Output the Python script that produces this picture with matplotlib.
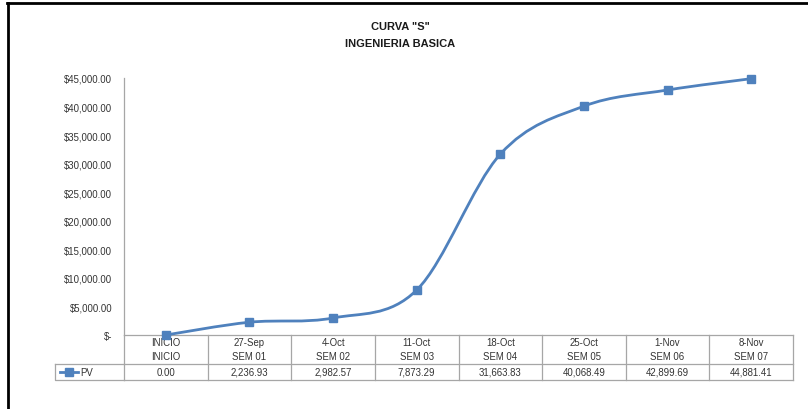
import matplotlib
matplotlib.use("Agg")
import matplotlib.pyplot as plt
from matplotlib.path import Path
from matplotlib.patches import PathPatch
from matplotlib.lines import Line2D
from matplotlib.ticker import FuncFormatter
import numpy as np

# Data
dates = ["INICIO", "27-Sep", "4-Oct", "11-Oct", "18-Oct", "25-Oct", "1-Nov", "8-Nov"]
weeks = ["INICIO", "SEM 01", "SEM 02", "SEM 03", "SEM 04", "SEM 05", "SEM 06", "SEM 07"]
pv = [0.00, 2236.93, 2982.57, 7873.29, 31663.83, 40068.49, 42899.69, 44881.41]
y_ticks = [0, 5000, 10000, 15000, 20000, 25000, 30000, 35000, 40000, 45000]

BLUE = "#4F81BD"
GRID = "#A6A6A6"
TXT = "#333333"
FONT = "Liberation Sans"
FS = 6.9

plt.rcParams["font.family"] = [FONT, "DejaVu Sans"]

fig = plt.figure(figsize=(8.08, 4.10), dpi=100)
ax = fig.add_axes([124 / 808, 1 - 336 / 410, 669 / 808, 257 / 410])

n = len(pv)
x = np.arange(n, dtype=float)
y = np.array(pv, dtype=float)

# Smoothed line (cubic Bezier segments, Catmull-Rom style control points)
verts = [(x[0], y[0])]
codes = [Path.MOVETO]
for i in range(n - 1):
    p0 = np.array([x[max(i - 1, 0)], y[max(i - 1, 0)]])
    p1 = np.array([x[i], y[i]])
    p2 = np.array([x[i + 1], y[i + 1]])
    p3 = np.array([x[min(i + 2, n - 1)], y[min(i + 2, n - 1)]])
    c1 = p1 + (p2 - p0) / 6.0
    c2 = p2 - (p3 - p1) / 6.0
    verts += [tuple(c1), tuple(c2), tuple(p2)]
    codes += [Path.CURVE4] * 3
ax.add_patch(PathPatch(Path(verts, codes), facecolor="none", edgecolor=BLUE,
                       lw=2.0, zorder=3, capstyle="round", joinstyle="round",
                       clip_on=False))
ax.plot(x, y, linestyle="none", marker="s", markersize=6, color=BLUE,
        markeredgecolor=BLUE, zorder=4, clip_on=False)

ax.set_xlim(-0.5, n - 0.5)
ax.set_ylim(0, 45000)
ax.set_yticks(y_ticks)
ax.yaxis.set_major_formatter(FuncFormatter(
    lambda v, _: "$-" if v == 0 else f"${v:,.2f}"))
ax.tick_params(axis="y", length=0, pad=8.5, labelsize=FS, labelcolor=TXT)
ax.set_xticks([])
for s in ("top", "right"):
    ax.spines[s].set_visible(False)
for s in ("left", "bottom"):
    ax.spines[s].set_color(GRID)
    ax.spines[s].set_linewidth(0.9)
for lab in ax.get_yticklabels():
    lab.set_fontfamily(FONT)

# Data table below the plot
tr = ax.get_xaxis_transform()
h_px = 257.0
row1 = -29 / h_px
row2 = -45 / h_px
lk = dict(color=GRID, lw=0.9, clip_on=False, transform=tr)
for k in range(n + 1):
    xb = k - 0.5
    ax.add_line(Line2D([xb, xb], [0, row2], **lk))
ax.add_line(Line2D([-0.5, n - 0.5], [row1, row1], **lk))
ax.add_line(Line2D([-0.5, n - 0.5], [row2, row2], **lk))

tk = dict(transform=tr, ha="center", va="center", fontsize=FS, color=TXT,
          clip_on=False)
for i in range(n):
    ax.text(i, -7.5 / h_px, dates[i], **tk)
    ax.text(i, -21.5 / h_px, weeks[i], **tk)
    ax.text(i, -37 / h_px, f"{pv[i]:,.2f}", **tk)

# Legend cell
ta = ax.transAxes
w_px = 669.0
lx0 = -69 / w_px
ax.add_line(Line2D([lx0, lx0, 0], [row1, row2, row2], color=GRID, lw=0.9,
                   clip_on=False, transform=ta))
ax.add_line(Line2D([lx0, 0], [row1, row1], color=GRID, lw=0.9,
                   clip_on=False, transform=ta))
ax.add_line(Line2D([-64 / w_px, -46 / w_px], [-37 / h_px, -37 / h_px],
                   color=BLUE, lw=2.0, clip_on=False, transform=ta))
ax.add_line(Line2D([-55 / w_px], [-37 / h_px], marker="s", markersize=5.5,
                   color=BLUE, clip_on=False, transform=ta))
ax.text(-44 / w_px, -37 / h_px, "PV", transform=ta, ha="left", va="center",
        fontsize=FS, color=TXT, clip_on=False)

# Title
title_font = ["Liberation Sans Narrow", FONT, "DejaVu Sans"]
fig.text(400 / 808, 1 - 27 / 410, 'CURVA "S"', ha="center", va="center",
         fontsize=8, fontweight="bold", family=title_font, color="#1a1a1a")
fig.text(400 / 808, 1 - 44 / 410, "INGENIERIA BASICA", ha="center", va="center",
         fontsize=8, fontweight="bold", family=title_font, color="#1a1a1a")

# Outer frame (top and left edges)
fig.add_artist(Line2D([7.5 / 808, 7.5 / 808], [0, 1 - 4 / 410], color="black",
                      lw=2.0, transform=fig.transFigure))
fig.add_artist(Line2D([6.5 / 808, 1], [1 - 4 / 410, 1 - 4 / 410], color="black",
                      lw=2.0, transform=fig.transFigure))

fig.savefig("out.png", dpi=100, facecolor="white")
